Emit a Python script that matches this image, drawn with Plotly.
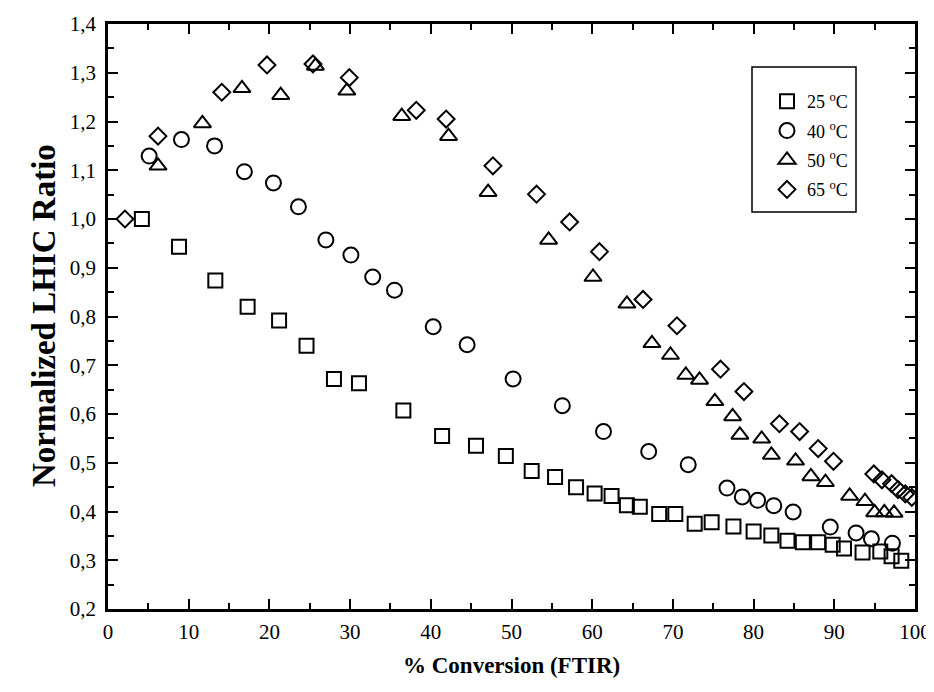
import plotly.graph_objects as go

# ---- data ----
x25 = [4.2, 8.8, 13.3, 17.3, 21.2, 24.6, 28.0, 31.1, 36.6, 41.4, 45.6, 49.3, 52.5, 55.4, 58.0,
       60.3, 62.4, 64.3, 65.9, 68.3, 70.3, 72.7, 74.8, 77.5, 80.0, 82.2, 84.2, 86.1, 88.0,
       89.8, 91.2, 93.5, 95.7, 97.1, 98.3]
y25 = [1.000, 0.943, 0.874, 0.820, 0.792, 0.740, 0.672, 0.663, 0.607, 0.555, 0.535, 0.514,
       0.483, 0.471, 0.450, 0.437, 0.432, 0.413, 0.410, 0.395, 0.395, 0.375, 0.378, 0.369,
       0.359, 0.351, 0.340, 0.337, 0.337, 0.332, 0.324, 0.316, 0.318, 0.308, 0.299]

x40 = [5.1, 9.1, 13.2, 16.9, 20.5, 23.6, 27.0, 30.1, 32.8, 35.5, 40.3, 44.5, 50.2, 56.3,
       61.4, 67.0, 71.9, 76.7, 78.6, 80.5, 82.5, 84.9, 89.5, 92.7, 94.6, 97.2]
y40 = [1.129, 1.163, 1.150, 1.097, 1.074, 1.025, 0.957, 0.926, 0.881, 0.854, 0.779, 0.742,
       0.672, 0.617, 0.564, 0.523, 0.496, 0.448, 0.430, 0.423, 0.412, 0.399, 0.368, 0.356,
       0.344, 0.335]

x50 = [6.2, 11.7, 16.6, 21.4, 25.7, 29.6, 36.4, 42.2, 47.1, 54.6, 60.1, 64.3, 67.4, 69.7,
       71.6, 73.3, 75.2, 77.4, 78.3, 81.0, 82.2, 85.2, 87.1, 88.9, 91.9, 93.8, 95.0, 96.2, 97.4]
y50 = [1.109, 1.196, 1.268, 1.254, 1.314, 1.263, 1.211, 1.170, 1.055, 0.957, 0.881, 0.826,
       0.745, 0.721, 0.680, 0.670, 0.626, 0.595, 0.557, 0.549, 0.516, 0.504, 0.472, 0.460,
       0.432, 0.421, 0.398, 0.398, 0.397]

x65 = [2.1, 6.2, 14.1, 19.7, 25.4, 29.9, 38.2, 41.9, 47.7, 53.1, 57.2, 60.9, 66.3, 70.5,
       75.9, 78.8, 83.2, 85.7, 88.0, 89.9, 94.9, 95.9, 97.1, 97.9, 98.8, 99.6]
y65 = [1.000, 1.170, 1.260, 1.316, 1.318, 1.290, 1.223, 1.205, 1.109, 1.051, 0.994, 0.933,
       0.835, 0.781, 0.692, 0.646, 0.580, 0.564, 0.529, 0.503, 0.477, 0.465, 0.457, 0.445,
       0.436, 0.429]

names = ["25 <sup>o</sup>C", "40 <sup>o</sup>C", "50 <sup>o</sup>C", "65 <sup>o</sup>C"]
x_ticks = [0, 10, 20, 30, 40, 50, 60, 70, 80, 90, 100]
y_ticks = [0.2, 0.3, 0.4, 0.5, 0.6, 0.7, 0.8, 0.9, 1.0, 1.1, 1.2, 1.3, 1.4]
x_title = "<b>% Conversion (FTIR)</b>"
y_title = "<b>Normalized LHIC Ratio</b>"

series = [(x25, y25, "square-open", 14), (x40, y40, "circle-open", 15),
          (x50, y50, "triangle-up-open", 15), (x65, y65, "diamond-open", 13)]

FONT = "Liberation Serif"

fig = go.Figure()
for (xs, ys, sym, sz), nm in zip(series, names):
    fig.add_trace(go.Scatter(
        x=xs, y=ys, mode="markers", name=nm, legendgroup=nm,
        marker=dict(symbol=sym, size=sz, color="black", line=dict(color="black", width=2)),
    ))

axis_common = dict(
    showline=True, linecolor="black", linewidth=2.5, mirror="ticks",
    ticks="inside", ticklen=10, tickwidth=2, tickcolor="black",
    showgrid=False, zeroline=False, automargin=False,
    tickfont=dict(family=FONT, size=21, color="black"),
)

fig.update_xaxes(
    range=[0, 100], tickvals=x_ticks, ticklabelstandoff=2, **axis_common,
    minor=dict(ticks="inside", ticklen=6, tickwidth=2, dtick=5, tickcolor="black", showgrid=False),
)
fig.update_yaxes(
    range=[0.2, 1.4], tickvals=y_ticks, tickformat=".1f", ticklabelstandoff=5, **axis_common,
    minor=dict(ticks="inside", ticklen=6, tickwidth=2, dtick=0.05, tickcolor="black", showgrid=False),
)

# page has an 8px body margin: figure coords = page coords - 8
OFF = 8
FW, FH = 934 - OFF, 692 - OFF
L, R, T, B = 108, 915, 24, 609          # plot area in page pixels
W, H = R - L, B - T
def px(xp):
    return (xp - L) / W
def py(yp):
    return 1 - (yp - T) / H

# axis titles
fig.add_annotation(text=x_title, xref="paper", yref="paper", x=px(511), y=py(665),
                   xanchor="center", yanchor="middle", showarrow=False,
                   font=dict(family=FONT, size=23, color="black"))
fig.add_annotation(text=y_title, xref="paper", yref="paper", x=px(44), y=py(316),
                   xanchor="center", yanchor="middle", showarrow=False, textangle=-90,
                   font=dict(family=FONT, size=33, color="black"))

# legend box
fig.add_shape(type="rect", xref="paper", yref="paper",
              x0=px(752), x1=px(856), y0=py(212), y1=py(67),
              line=dict(color="black", width=1.5), fillcolor="white", layer="below")

fig.update_layout(
    width=FW, height=FH,
    margin=dict(l=L - OFF, r=FW - (R - OFF), t=T - OFF, b=FH - (B - OFF)),
    paper_bgcolor="white", plot_bgcolor="white",
    separators=", ",
    font=dict(family=FONT, color="black"),
    legend=dict(x=px(767), y=py(83), xanchor="left", yanchor="top",
                bgcolor="rgba(0,0,0,0)", borderwidth=0,
                font=dict(family=FONT, size=18, color="black"),
                tracegroupgap=3),
    showlegend=True,
)

fig.write_html("out.html")
